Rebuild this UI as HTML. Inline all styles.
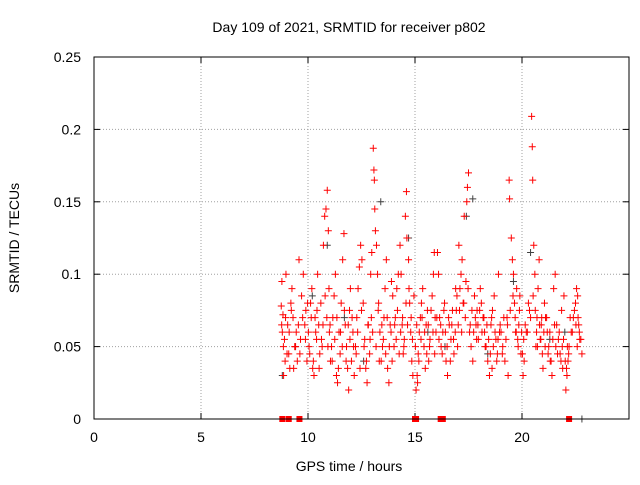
<!DOCTYPE html>
<html><head><meta charset="utf-8"><style>
body{margin:0;background:#fff;}
svg text{font-family:"Liberation Sans",sans-serif;fill:#000;}
</style></head><body>
<svg id="chart" width="640" height="480" xmlns="http://www.w3.org/2000/svg">
<text x="349" y="32" font-size="14" text-anchor="middle">Day 109 of 2021, SRMTID for receiver p802</text>
<text x="349" y="471" font-size="14" text-anchor="middle">GPS time / hours</text>
<text transform="translate(19,238) rotate(-90)" font-size="14" text-anchor="middle">SRMTID / TECUs</text>
<g id="grid"></g><g id="axes"></g><g id="gray"></g><g id="red"></g>
<rect x="94" y="57" width="535" height="362" fill="none" stroke="#000" stroke-width="1"/>
</svg>
<script>
const xTicks=[0,5,10,15,20,25];
const xTickLabels=["0","5","10","15","20",""];
const yTicks=[0,0.05,0.1,0.15,0.2,0.25];
const yTickLabels=["0","0.05","0.1","0.15","0.2","0.25"];
const redTimes=[8.75,8.78,8.8,8.83,8.86,8.9,8.93,8.97,
9.05,9.1,9.15,9.2,9.25,9.3,9.38,9.45,9.5,9.58,9.65,9.7,9.78,9.85,9.9,9.95,
10.02,10.08,10.12,10.18,10.22,10.28,10.33,10.4,10.45,10.5,10.55,10.6,10.66,10.72,10.78,10.84,10.9,10.95,10.98,11.0,
11.05,11.1,11.16,11.22,11.28,11.33,11.38,11.45,11.5,11.55,11.62,11.68,11.74,11.8,11.85,11.9,11.94,11.98,
12.03,12.1,12.16,12.22,12.28,12.34,12.4,12.46,12.52,12.58,12.65,12.7,12.76,12.82,12.88,12.93,12.98,
13.05,13.08,13.1,13.12,13.15,13.2,13.25,13.3,13.36,13.42,13.48,13.55,13.6,13.66,13.72,13.78,13.84,13.9,13.96,
14.02,14.08,14.15,14.22,14.3,14.6,14.55,14.62,14.7,14.75,14.8,14.85,14.9,14.4,14.45,14.35,14.5,14.95,
15.05,15.1,15.15,15.2,15.25,15.3,15.36,15.42,15.48,15.52,15.58,15.64,15.7,15.12,15.8,15.86,15.9,15.94,15.98,
16.05,16.1,16.15,16.22,16.3,16.38,16.45,16.52,16.6,16.68,16.75,16.82,16.9,16.96,
17.05,17.5,17.45,17.42,17.3,17.2,17.15,17.1,17.25,17.35,17.55,17.62,17.7,17.78,17.85,17.9,17.96,
18.05,18.1,18.18,18.25,18.32,18.4,18.48,18.55,18.62,18.7,18.78,18.85,18.9,18.6,18.95,
19.4,19.42,19.5,19.55,19.6,19.65,19.7,19.1,19.2,19.3,19.75,19.8,19.35,19.85,19.9,19.95,
20.45,20.48,20.5,20.55,20.6,20.3,20.2,20.1,20.05,20.65,20.7,20.75,20.8,20.85,20.9,20.95,20.98,
21.05,21.1,21.18,21.25,21.32,21.4,21.48,21.55,21.62,21.7,21.78,21.85,21.9,21.96,
22.05,22.1,22.15,22.2,22.3,22.4,22.5,22.55,22.6,22.65,22.7,22.8];
const redValues=[0.078,0.095,0.06,0.072,0.03,0.055,0.04,0.1,
0.065,0.045,0.035,0.08,0.09,0.07,0.05,0.06,0.04,0.11,0.055,0.085,0.1,0.065,0.075,0.04,
0.06,0.045,0.08,0.09,0.035,0.03,0.07,0.055,0.1,0.065,0.045,0.08,0.05,0.12,0.14,0.145,0.158,0.13,0.09,0.06,
0.04,0.05,0.07,0.085,0.1,0.03,0.025,0.06,0.045,0.08,0.11,0.128,0.065,0.05,0.035,0.02,0.075,0.09,
0.04,0.06,0.03,0.05,0.07,0.09,0.105,0.12,0.11,0.08,0.055,0.035,0.025,0.065,0.045,0.1,0.115,
0.187,0.172,0.165,0.145,0.13,0.12,0.1,0.08,0.06,0.04,0.05,0.07,0.09,0.11,0.035,0.025,0.065,0.095,0.085,
0.05,0.07,0.09,0.1,0.12,0.157,0.14,0.125,0.11,0.08,0.06,0.04,0.03,0.065,0.045,0.1,0.055,0.085,
0.02,0.03,0.045,0.06,0.07,0.08,0.09,0.05,0.035,0.065,0.075,0.04,0.055,0.025,0.085,0.1,0.115,0.07,0.06,
0.115,0.1,0.07,0.05,0.06,0.08,0.04,0.03,0.065,0.055,0.075,0.045,0.09,0.085,
0.12,0.17,0.16,0.15,0.14,0.11,0.1,0.09,0.08,0.07,0.06,0.05,0.04,0.085,0.065,0.075,0.055,
0.09,0.08,0.07,0.06,0.05,0.04,0.03,0.065,0.075,0.085,0.055,0.045,0.1,0.035,0.06,
0.165,0.152,0.125,0.11,0.1,0.08,0.06,0.05,0.04,0.07,0.09,0.055,0.03,0.065,0.085,0.045,
0.209,0.188,0.165,0.12,0.1,0.08,0.06,0.04,0.03,0.05,0.07,0.09,0.11,0.055,0.065,0.045,0.035,
0.08,0.07,0.06,0.05,0.04,0.03,0.09,0.1,0.065,0.055,0.045,0.075,0.035,0.085,
0.02,0.03,0.04,0.05,0.06,0.07,0.08,0.09,0.085,0.065,0.055,0.045];
const red2Times=[8.77,8.85,8.95,9.02,9.12,9.22,9.33,9.42,9.55,9.62,9.75,9.88,9.98,
10.05,10.15,10.25,10.36,10.42,10.52,10.63,10.7,10.8,10.88,10.93,
11.03,11.13,11.25,11.35,11.42,11.52,11.6,11.7,11.78,11.88,11.96,
12.06,12.13,12.25,12.32,12.43,12.5,12.62,12.73,12.8,12.9,12.96,
13.02,13.18,13.28,13.33,13.45,13.52,13.63,13.7,13.8,13.88,13.93,
14.05,14.12,14.18,14.26,14.33,14.42,14.48,14.58,14.65,14.72,14.82,14.88,
15.02,15.08,15.18,15.28,15.33,15.45,15.55,15.62,15.68,15.75,15.84,15.92,
16.02,16.12,16.2,16.27,16.35,16.42,16.5,16.57,16.65,16.72,16.8,16.88,16.93,16.99,
17.02,17.08,17.18,17.28,17.38,17.48,17.58,17.66,17.74,17.82,17.88,17.94,
18.02,18.13,18.22,18.28,18.36,18.44,18.52,18.58,18.66,18.74,18.82,18.88,18.98,
19.02,19.08,19.15,19.25,19.32,19.45,19.58,19.68,19.73,19.82,19.88,19.98,
20.02,20.08,20.15,20.25,20.35,20.4,20.52,20.62,20.68,20.72,20.82,20.88,20.92,
21.02,21.08,21.15,21.22,21.3,21.36,21.44,21.52,21.58,21.66,21.74,21.82,21.88,21.94,
22.02,22.08,22.12,22.18,22.25,22.35,22.45,22.52,22.58,22.62,22.68,22.75];
const red2Values=[0.065,0.05,0.07,0.045,0.06,0.075,0.035,0.05,0.065,0.045,0.07,0.055,0.08,
0.05,0.07,0.04,0.06,0.075,0.035,0.055,0.065,0.085,0.07,0.05,
0.065,0.04,0.055,0.07,0.035,0.06,0.05,0.075,0.04,0.065,0.055,
0.07,0.05,0.045,0.06,0.035,0.075,0.05,0.04,0.065,0.055,0.07,
0.06,0.05,0.075,0.04,0.065,0.055,0.045,0.07,0.05,0.06,0.04,
0.065,0.055,0.075,0.045,0.06,0.07,0.05,0.08,0.065,0.09,0.07,0.055,
0.05,0.065,0.04,0.055,0.07,0.06,0.045,0.065,0.05,0.075,0.06,0.045,
0.07,0.055,0.065,0.045,0.075,0.06,0.05,0.07,0.04,0.065,0.055,0.06,0.075,0.05,
0.065,0.075,0.06,0.08,0.095,0.09,0.065,0.075,0.06,0.07,0.055,0.065,
0.075,0.06,0.07,0.05,0.065,0.055,0.045,0.07,0.05,0.06,0.04,0.055,0.065,
0.06,0.045,0.07,0.055,0.065,0.075,0.085,0.07,0.06,0.05,0.075,0.06,
0.045,0.055,0.065,0.06,0.075,0.07,0.085,0.075,0.06,0.05,0.065,0.055,0.07,
0.06,0.05,0.07,0.045,0.06,0.04,0.055,0.065,0.05,0.045,0.06,0.04,0.05,0.055,
0.04,0.035,0.05,0.045,0.07,0.06,0.075,0.065,0.05,0.07,0.06,0.055];
const grayTimes=[8.8,9.4,10.2,10.9,11.7,12.6,13.4,14.7,15.6,16.4,17.4,17.7,18.4,19.6,20.4,21.3,22.0,22.8];
const grayValues=[0.03,0.05,0.085,0.12,0.07,0.04,0.15,0.125,0.06,0.05,0.14,0.152,0.045,0.095,0.115,0.055,0.06,0];
const zeroTimes=[8.8,9.1,9.6,15.0,15.05,16.2,16.3,22.2];
const X0=94,X1=629,Y0=419,Y1=57;
const xs=t=>X0+(t-0)/(25-0)*(X1-X0);
const ys=v=>Y0-(v-0)/(0.25-0)*(Y0-Y1);
const NS="http://www.w3.org/2000/svg";
function mk(tag,attrs,parent){const e=document.createElementNS(NS,tag);for(const k in attrs)e.setAttribute(k,attrs[k]);parent.appendChild(e);return e;}
const grid=document.getElementById('grid'),axes=document.getElementById('axes');
xTicks.forEach((t,i)=>{const x=xs(t);
 if(t>0&&t<25){const l=mk('line',{x1:x,x2:x,y1:Y1,y2:Y0,stroke:'#a0a0a0','stroke-dasharray':'1,2'},grid);
 
 }
 const tx=mk('text',{x:x,y:442,'font-size':14,'text-anchor':'middle'},axes);tx.textContent=xTickLabels[i];
 
 
 mk('line',{x1:x,x2:x,y1:Y0,y2:Y0-6,stroke:'#000'},axes);mk('line',{x1:x,x2:x,y1:Y1,y2:Y1+6,stroke:'#000'},axes);});
yTicks.forEach((v,i)=>{const y=ys(v);
 if(v>0&&v<0.25){const l=mk('line',{x1:X0,x2:X1,y1:y,y2:y,stroke:'#a0a0a0','stroke-dasharray':'1,2'},grid);
 
 }
 const tx=mk('text',{x:81,y:y+5,'font-size':14,'text-anchor':'end'},axes);tx.textContent=yTickLabels[i];
 
 
 mk('line',{x1:X0,x2:X0+6,y1:y,y2:y,stroke:'#000'},axes);mk('line',{x1:X1,x2:X1-6,y1:y,y2:y,stroke:'#000'},axes);});
function plus(g,t,v,col){const x=xs(t),y=ys(v);
 const p=mk('path',{d:`M${x-3.5},${y}h7M${x},${y-3.5}v7`,stroke:col,'stroke-width':1},g);
 
 }
const gg=document.getElementById('gray'),rg=document.getElementById('red');
grayTimes.forEach((t,i)=>plus(gg,t,grayValues[i],'#404040'));
redTimes.forEach((t,i)=>plus(rg,t,redValues[i],'#ff0000'));
red2Times.forEach((t,i)=>plus(rg,t,red2Values[i],'#ff0000'));
zeroTimes.forEach(t=>{const r=mk('rect',{x:xs(t)-3,y:Y0-3,width:6,height:6,fill:'#ff0000'},rg);
 
 });
</script>
</body></html>
